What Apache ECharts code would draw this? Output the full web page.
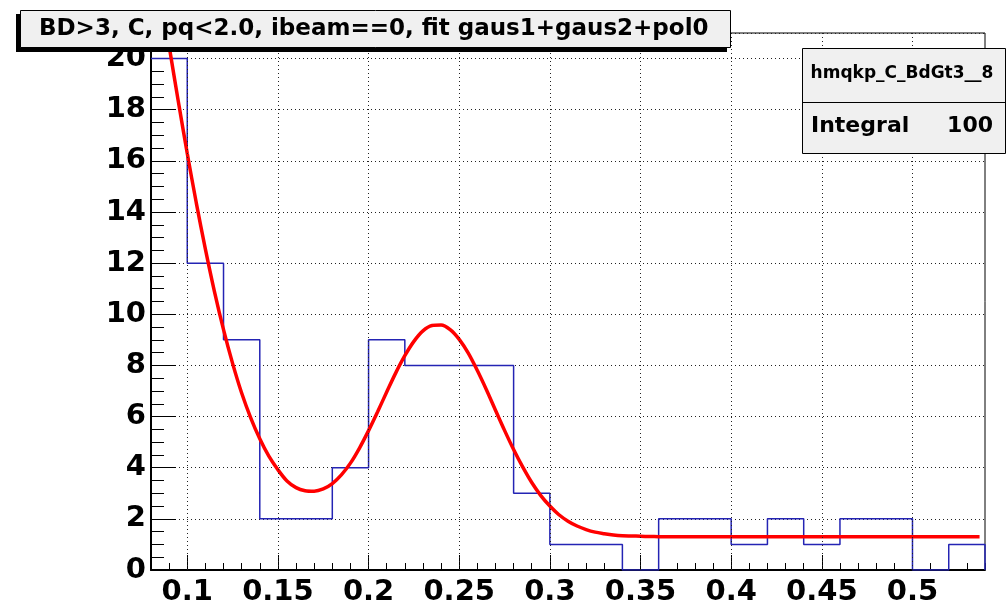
<!DOCTYPE html>
<html>
<head>
<meta charset="utf-8">
<script src="https://cdn.jsdelivr.net/npm/echarts@6/dist/echarts.min.js"></script>
<style>
  html, body { margin: 0; padding: 0; background: #fff; }
  #chart { width: 1006px; height: 608px; }
</style>
</head>
<body>
<div id="chart"></div>
<script>
// Histogram hmqkp_C_BdGt3__8: bin edges and entries per bin
const binEdges = [0.08, 0.10, 0.12, 0.14, 0.16, 0.18, 0.20, 0.22, 0.24, 0.26, 0.28, 0.30,
                  0.32, 0.34, 0.36, 0.38, 0.40, 0.42, 0.44, 0.46, 0.48, 0.50, 0.52, 0.54];
const binCounts = [20, 12, 9, 2, 2, 4, 9, 8, 8, 8, 3, 1, 1, 0, 2, 2, 1, 2, 1, 2, 2, 0, 1];

// Fit curve gaus1+gaus2+pol0, sampled points
const fitX = [0.085, 0.090, 0.095, 0.100, 0.105, 0.110, 0.115, 0.120, 0.125, 0.130,
              0.135, 0.140, 0.145, 0.150, 0.155, 0.160, 0.165, 0.170, 0.175, 0.180,
              0.185, 0.190, 0.195, 0.200, 0.205, 0.210, 0.215, 0.220, 0.225, 0.230,
              0.235, 0.240, 0.245, 0.250, 0.255, 0.260, 0.265, 0.270, 0.275, 0.280,
              0.285, 0.290, 0.295, 0.300, 0.305, 0.310, 0.315, 0.320, 0.325, 0.330,
              0.335, 0.340, 0.345, 0.350, 0.355, 0.360, 0.370, 0.400, 0.450, 0.500, 0.537];
const fitY = [22.68, 20.49, 18.35, 16.29, 14.35, 12.55, 10.89, 9.40, 8.08, 6.92,
              5.95, 5.13, 4.45, 3.92, 3.48, 3.22, 3.10, 3.08, 3.17, 3.38,
              3.72, 4.18, 4.77, 5.45, 6.19, 6.96, 7.71, 8.38, 8.94, 9.35,
              9.56, 9.58, 9.40, 9.02, 8.48, 7.80, 7.05, 6.25, 5.46, 4.71,
              4.03, 3.42, 2.91, 2.50, 2.16, 1.91, 1.72, 1.58, 1.48, 1.42,
              1.37, 1.34, 1.33, 1.32, 1.31, 1.305, 1.30, 1.30, 1.30, 1.30, 1.30];

// Axis tick labels
const xTickLabels = [0.1, 0.15, 0.2, 0.25, 0.3, 0.35, 0.4, 0.45, 0.5];
const yTickLabels = [0, 2, 4, 6, 8, 10, 12, 14, 16, 18, 20];

const titleText = 'BD>3, C, pq<2.0, ibeam==0, fit gaus1+gaus2+pol0';
const statsName = 'hmqkp_C_BdGt3__8';
const statsLabel = 'Integral';
const statsValue = '100';

const FONT = '"DejaVu Sans", "Liberation Sans", sans-serif';

// step outline of the histogram
const histLine = binCounts.map((c, i) => [binEdges[i], c]);
histLine.push([binEdges[binEdges.length - 1], binCounts[binCounts.length - 1]]);
histLine.push([binEdges[binEdges.length - 1], 0]);

const fitLine = fitX.map((x, i) => [x, fitY[i]]);

const chart = echarts.init(document.getElementById('chart'), null, { renderer: 'canvas' });

const dotted = { color: '#222', width: 1, type: [1, 3] };

chart.setOption({
  animation: false,
  backgroundColor: '#fff',
  textStyle: { fontFamily: FONT },
  grid: {
    left: 151, top: 33, width: 834, height: 537,
    show: true, borderColor: '#000', borderWidth: 1, backgroundColor: 'transparent'
  },
  xAxis: [
    {
      type: 'value', min: 0.08, max: 0.54, interval: 0.01,
      axisLine: { show: true, lineStyle: { color: '#000', width: 2 } },
      axisTick: { show: true, inside: true, length: 7, lineStyle: { color: '#000', width: 1 } },
      axisLabel: {
        customValues: xTickLabels,
        color: '#000', fontFamily: FONT, fontWeight: 'bold', fontSize: 29, margin: 8,
        formatter: v => String(+v.toFixed(2))
      },
      splitLine: { show: false }
    },
    {
      type: 'value', min: 0.08, max: 0.54, position: 'bottom',
      axisLine: { show: false },
      axisTick: { show: true, inside: true, length: 15, customValues: xTickLabels,
                  lineStyle: { color: '#000', width: 1 } },
      axisLabel: { show: false },
      splitLine: { show: false }
    }
  ],
  yAxis: {
    type: 'value', min: 0, max: 21, interval: 2,
    axisLine: { show: true, lineStyle: { color: '#000', width: 2 } },
    axisTick: { show: true, inside: true, length: 25, lineStyle: { color: '#000', width: 1 } },
    minorTick: { show: true, splitNumber: 4, length: 13, lineStyle: { color: '#000', width: 1 } },
    axisLabel: {
      customValues: yTickLabels,
      color: '#000', fontFamily: FONT, fontWeight: 'bold', fontSize: 29, margin: 5
    },
    splitLine: { show: true, lineStyle: dotted }
  },
  series: [
    {
      // vertical dotted grid lines at the labelled x values
      type: 'line', data: [], z: 1, silent: true,
      markLine: {
        silent: true, symbol: ['none', 'none'], animation: false,
        label: { show: false },
        lineStyle: dotted,
        emphasis: { disabled: true },
        data: xTickLabels.map(v => ({ xAxis: v }))
      }
    },
    {
      name: 'hist', type: 'line', data: histLine, step: 'end',
      showSymbol: false, symbol: 'none', z: 3,
      lineStyle: { color: '#2424b4', width: 1.5 }
    },
    {
      name: 'fit', type: 'line', data: fitLine, smooth: 0.3,
      showSymbol: false, symbol: 'none', z: 4, clip: true,
      lineStyle: { color: '#ff0000', width: 3.5 }
    }
  ],
  graphic: [
    { type: 'rect', z: 100, shape: { x: 16, y: 14, width: 711, height: 38 },
      style: { fill: '#000' } },
    { type: 'rect', z: 101, shape: { x: 20.5, y: 10.5, width: 710, height: 37 },
      style: { fill: '#f0f0f0', stroke: '#000', lineWidth: 1 } },
    { type: 'text', z: 102, x: 39, y: 29,
      style: { text: titleText, fill: '#000', fontFamily: FONT, fontWeight: 'bold',
               fontSize: 23, align: 'left', verticalAlign: 'middle' } },
    { type: 'rect', z: 100, shape: { x: 802.5, y: 48.5, width: 203, height: 105 },
      style: { fill: '#f0f0f0', stroke: '#000', lineWidth: 1 } },
    { type: 'line', z: 101, shape: { x1: 802.5, y1: 102.5, x2: 1006, y2: 102.5 },
      style: { stroke: '#000', lineWidth: 1 } },
    { type: 'text', z: 102, x: 902, y: 74,
      style: { text: statsName, fill: '#000', fontFamily: FONT, fontWeight: 'bold',
               fontSize: 17, align: 'center', verticalAlign: 'middle' } },
    { type: 'text', z: 102, x: 811, y: 126,
      style: { text: statsLabel, fill: '#000', fontFamily: FONT, fontWeight: 'bold',
               fontSize: 22, align: 'left', verticalAlign: 'middle' } },
    { type: 'text', z: 102, x: 993, y: 126,
      style: { text: statsValue, fill: '#000', fontFamily: FONT, fontWeight: 'bold',
               fontSize: 22, align: 'right', verticalAlign: 'middle' } }
  ]
});
</script>
</body>
</html>
